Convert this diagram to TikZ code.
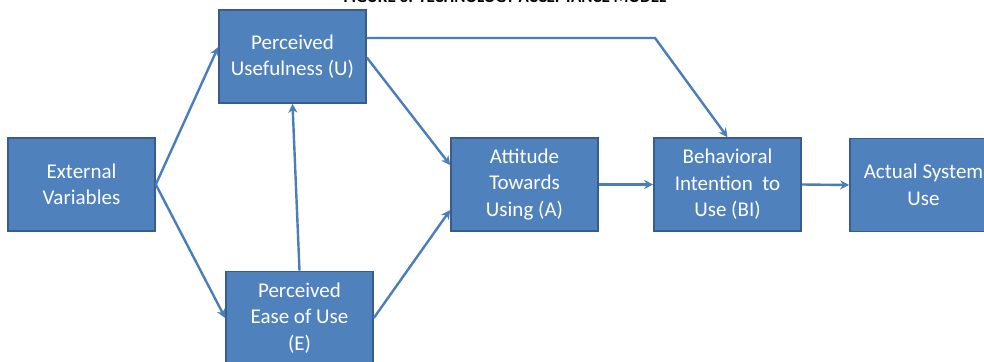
\documentclass[tikz,border=0pt]{standalone}
\usepackage{fontspec}
\setmainfont{Carlito}
\usetikzlibrary{arrows.meta}
\definecolor{boxfill}{HTML}{4F81BD}
\definecolor{boxline}{HTML}{385D8A}
\definecolor{arrowc}{HTML}{4A7EBB}
\begin{document}
\begin{tikzpicture}[x=1pt,y=-1pt,
  tambox/.style={draw=boxline, line width=1.6pt, fill=boxfill, text=white,
    minimum width=147pt, minimum height=93pt, align=center, inner sep=0pt,
    font=\fontsize{21}{26.5}\selectfont},
  tamarrow/.style={draw=arrowc, line width=2.4pt, -{Stealth[length=9pt,width=9pt]}}]
\useasboundingbox (0,0) rectangle (984,361);
\clip (0,0) rectangle (984,361);
\fill[white] (0,0) rectangle (984,361);
\node[anchor=base, font=\bfseries\fontsize{17}{20}\selectfont] (title) at (505,3) {FIGURE 3: TECHNOLOGY ACCEPTANCE MODEL};
\node[tambox] (ev) at (81.5,184.5) {External\\Variables};
\node[tambox] (pu) at (292.5,56.5) {Perceived\\Usefulness (U)};
\node[tambox] (peou) at (299.5,318) {Perceived\\Ease of Use\\(E)};
\node[tambox] (att) at (524.5,184.5) {Attitude\\Towards\\Using (A)};
\node[tambox] (bi) at (727.5,184.5) {Behavioral\\Intention\ \ to\\Use (BI)};
\node[tambox] (act) at (923.5,185) {Actual System\\Use};
\coordinate (corner) at (655,38);
\draw[tamarrow] (ev.east) -- ([yshift=9.5pt]pu.west);
\draw[tamarrow] (ev.east) -- (peou.west);
\draw[tamarrow] (peou.north) -- (pu.south);
\draw[tamarrow] ([yshift=-1pt]pu.east) -- ([yshift=19.5pt]att.west);
\draw[tamarrow] (peou.east) -- ([yshift=-25.5pt]att.west);
\draw[tamarrow] ([yshift=18.5pt]pu.east) -- (corner) -- (bi.north);
\draw[tamarrow] (att.east) -- (bi.west);
\draw[tamarrow] (bi.east) -- (act.west);
\end{tikzpicture}
\end{document}
